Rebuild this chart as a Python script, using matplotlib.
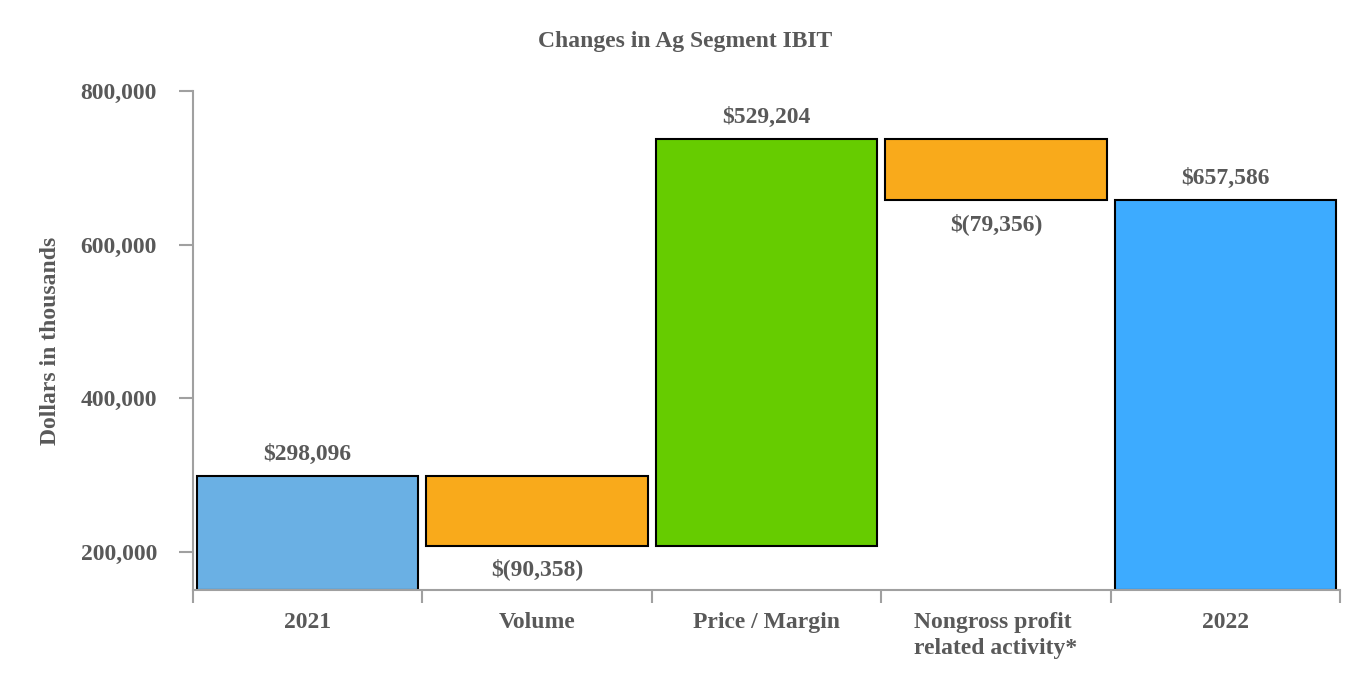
import numpy as np
import matplotlib
matplotlib.use('Agg')
import matplotlib.pyplot as plt
from matplotlib.ticker import FuncFormatter

# данные
categories = ['2021', 'Volume', 'Price / Margin', 'Nongross profit\nrelated activity*', '2022']
changes = [298096, -90358, 529204, -79356, 657586]
is_total = [True, False, False, False, True]
colors = ['#6AB0E4', '#F9AA1B', '#66CC00', '#F9AA1B', '#3DABFF']
labels = ['$298,096', '$(90,358)', '$529,204', '$(79,356)', '$657,586']

floor = 150000
text_color = '#595959'
fs = 17
plt.rcParams['font.family'] = ['Liberation Serif', 'DejaVu Serif']
plt.rcParams['font.weight'] = 'bold'

fig = plt.figure(figsize=(13.7, 6.9), dpi=100)
ax = fig.add_axes([193/1370, 1 - 590/690, (1340 - 193)/1370, (590 - 91)/690])

# вычисление начала и конца каждого столбика
running = 0
bottoms = []
tops = []
for i in range(len(changes)):
    if is_total[i]:
        bottoms.append(floor)
        tops.append(changes[i])
        running = changes[i]
    else:
        start = running
        running = running + changes[i]
        bottoms.append(min(start, running))
        tops.append(max(start, running))

xs = np.arange(len(categories))
heights = [t - b for t, b in zip(tops, bottoms)]
ax.bar(xs, heights, bottom=bottoms, width=0.965, color=colors,
       edgecolor='black', linewidth=1.5, zorder=2)

for i in range(len(xs)):
    if changes[i] >= 0:
        ax.annotate(labels[i], (xs[i], tops[i]), xytext=(0, 8), textcoords='offset points',
                    ha='center', va='bottom', fontsize=fs, color=text_color, fontweight='bold')
    else:
        ax.annotate(labels[i], (xs[i], bottoms[i]), xytext=(0, -9), textcoords='offset points',
                    ha='center', va='top', fontsize=fs, color=text_color, fontweight='bold')

ax.set_xlim(-0.5, len(categories) - 0.5)
ax.set_ylim(floor, 800000)
ax.set_yticks([200000, 400000, 600000, 800000])
ax.yaxis.set_major_formatter(FuncFormatter(lambda v, p: f'{int(v):,}'))

# границы категорий - большие деления, подписи - малые
ax.set_xticks(np.arange(-0.5, len(categories), 1.0))
ax.set_xticklabels([])
ax.set_xticks(xs, minor=True)
ax.set_xticklabels(categories, minor=True, fontsize=fs, color=text_color, fontweight='bold',
                   va='top', linespacing=1.3)
for lab in ax.get_xticklabels(minor=True):
    lab.set_multialignment('left')
ax.tick_params(axis='x', which='minor', length=0, pad=16)
ax.tick_params(axis='x', which='major', direction='out', length=9, width=1.5, color='#A0A0A0')
ax.tick_params(axis='y', length=10, width=1.5, color='#A0A0A0', pad=16,
               labelsize=fs, labelcolor=text_color)
for lab in ax.get_yticklabels():
    lab.set_fontweight('bold')

for s in ['top', 'right']:
    ax.spines[s].set_visible(False)
for s in ['left', 'bottom']:
    ax.spines[s].set_color('#A0A0A0')
    ax.spines[s].set_linewidth(1.5)

ax.set_ylabel('Dollars in thousands', fontsize=fs, color=text_color, fontweight='bold')
ax.yaxis.set_label_coords((61 - 193) / 1147, 0.5)
fig.text(0.5, 1 - 42/690, 'Changes in Ag Segment IBIT', ha='center', va='center',
         fontsize=fs, color=text_color, fontweight='bold')

fig.savefig('out.png', dpi=100)
